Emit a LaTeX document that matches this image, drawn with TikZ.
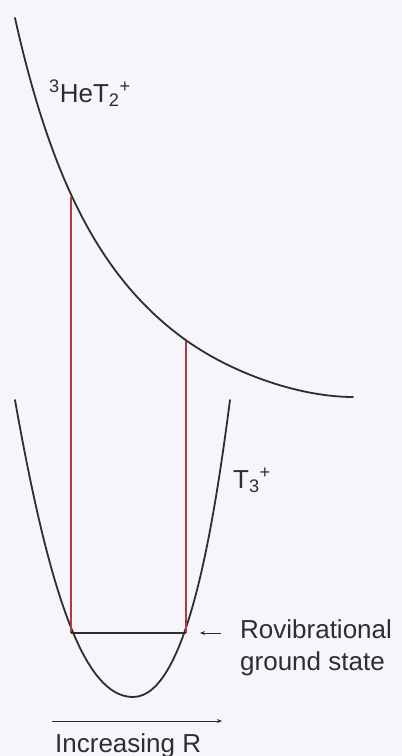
\documentclass[tikz,border=0pt]{standalone}
\usepackage{fontspec}
\setmainfont{Liberation Sans}
\usetikzlibrary{arrows.meta}
\definecolor{bg}{RGB}{245,245,250}
\definecolor{ink}{RGB}{45,45,50}
\definecolor{redline}{RGB}{175,60,60}
\tikzset{
  curve/.style={draw=ink, line width=1.8pt, line cap=round},
  transition/.style={draw=redline, line width=1.1pt},
  lbl/.style={inner sep=0pt, text=ink, font=\fontsize{26}{30}\selectfont, anchor=base west},
  pointer/.style={draw=ink, line width=0.7pt, -{Stealth[length=5pt,width=4pt]}}
}
\begin{document}
\begin{tikzpicture}[x=1pt,y=-1pt]
\fill[bg] (0,0) rectangle (402,756);
\useasboundingbox (0,0) rectangle (402,756);
% upper repulsive curve
\draw[curve] (15,18) .. controls (55,198) and (110,286) .. (187,341)
                     .. controls (237,376) and (303,397) .. (353,397);
% lower potential well
\draw[curve] (15,400) .. controls (50,598) and (85,697) .. (133,697)
                      .. controls (188,697) and (214.7,517) .. (230,400);
% transitions
\coordinate (a1) at (71,197);
\coordinate (a2) at (71,633);
\coordinate (b1) at (186,341);
\coordinate (b2) at (186,633);
\draw[transition] (a1) -- (a2);
\draw[transition] (b1) -- (b2);
\draw[draw=ink, line width=1.1pt] (a2) -- (b2);
% labels
\node[lbl] (he) at (49,102) {\textsuperscript{3}HeT\textsubscript{2}\textsuperscript{+}};
\node[lbl] (t3) at (233,488) {T\textsubscript{3}\textsuperscript{+}};
\node[lbl] (rov) at (240,638) {Rovibrational};
\node[lbl] (gs) at (240,670) {ground state};
\node[lbl] (inc) at (55,752) {Increasing R};
\coordinate (p1) at (221,633);
\coordinate (p2) at (200,633);
\draw[pointer] (p1) -- (p2);
\coordinate (r1) at (52,721);
\coordinate (r2) at (222,721);
\draw[pointer] (r1) -- (r2);
\end{tikzpicture}
\end{document}
